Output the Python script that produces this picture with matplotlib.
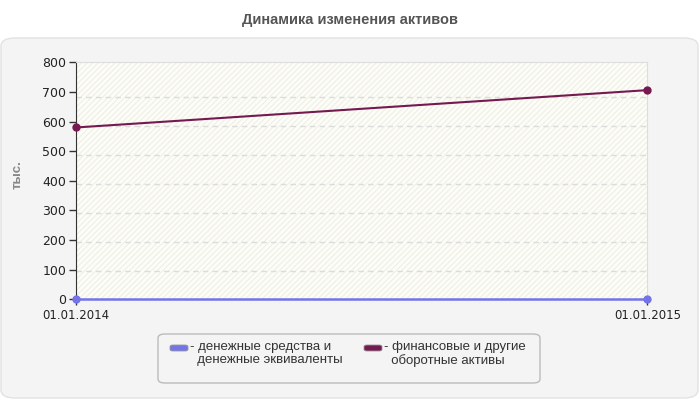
import numpy as np
import matplotlib
matplotlib.use('Agg')
import matplotlib.pyplot as plt
import matplotlib.patches as patches

plt.rcParams['font.family'] = ['Liberation Sans', 'DejaVu Sans']
plt.rcParams['hatch.color'] = '#ebebe4'
plt.rcParams['hatch.linewidth'] = 0.6

dates = ['01.01.2014', '01.01.2015']
cash = [0, 0]
other = [580, 706]
yticks = [0, 100, 200, 300, 400, 500, 600, 700, 800]
grid_vals = [95, 193, 291, 388, 486, 584, 682]
names = ['- денежные средства и\n  денежные эквиваленты',
         '- финансовые и другие\n  оборотные активы']
colors = ['#7474e8', '#751a50']

def main():
    fig = plt.figure(figsize=(7, 4), dpi=100)
    fig.patch.set_facecolor('white')

    # outer panel
    panel = patches.FancyBboxPatch((1/700, 2/400), 697/700, 360/400,
                                   boxstyle='round,pad=0,rounding_size=0.02',
                                   transform=fig.transFigure, facecolor='#f4f4f4',
                                   edgecolor='#e2e2e2', linewidth=1, zorder=-10)
    fig.patches.append(panel)

    fig.text(0.5, 1 - 20/400, 'Динамика изменения активов', ha='center', va='center',
             fontsize=10.5, fontweight='bold', color='#555555')

    ax = fig.add_axes([76/700, 1 - 299.3/400, (647.3 - 76)/700, 237/400])
    ax.set_zorder(1)
    ax.set_facecolor('#fdfdf7')
    x = np.arange(len(dates))
    ax.set_xlim(0, 1)
    ax.set_ylim(0, 800)

    # hatched background
    ax.add_patch(patches.Rectangle((0, 0), 1, 800, facecolor='none', edgecolor='#ebebe4',
                                   hatch='//////', linewidth=0, zorder=0))

    for g in grid_vals:
        ax.axhline(g, color='#dcdcdc', linestyle=(0, (4, 3)), linewidth=1, zorder=1)

    ax.plot(x, other, color=colors[1], linewidth=1.5, marker='o', markersize=5, zorder=3,
            clip_on=False)
    ax.plot(x, cash, color=colors[0], linewidth=1.8, marker='o', markersize=5, zorder=3,
            clip_on=False)

    ax.set_yticks(yticks)
    ax.set_xticks(x)
    ax.set_xticklabels(dates)
    ax.tick_params(axis='both', color='#333333', length=5, width=1,
                   labelcolor='#222222', pad=2)
    ax.tick_params(axis='x', length=4, pad=3)
    for lab in ax.get_yticklabels():
        lab.set_fontfamily('DejaVu Sans')
        lab.set_fontsize(9)
    for lab in ax.get_xticklabels():
        lab.set_fontfamily('DejaVu Sans')
        lab.set_fontsize(8.5)
    for s in ['top', 'right']:
        ax.spines[s].set_color('#dddddd')
    ax.spines['left'].set_color('#333333')
    ax.spines['bottom'].set_visible(False)

    fig.text(18/700, 1 - 175/400, 'тыс.', rotation=90, ha='center', va='center',
             fontsize=9.5, fontweight='bold', color='#888888')

    # legend box
    leg = patches.FancyBboxPatch((158/700, 1 - 383/400), 382/700, 49/400,
                                 boxstyle='round,pad=0,rounding_size=0.01',
                                 transform=fig.transFigure, facecolor='#f4f4f4',
                                 edgecolor='#bbbbbb', linewidth=1)
    fig.patches.append(leg)
    lx = [170, 364]
    for i in range(2):
        h = patches.FancyBboxPatch((lx[i]/700, 1 - 351/400), 18/700, 6/400,
                                   boxstyle='round,pad=0,rounding_size=0.004',
                                   transform=fig.transFigure, facecolor=colors[i],
                                   edgecolor='#999999', linewidth=0.6)
        fig.patches.append(h)
        fig.text((lx[i] + 20)/700, 1 - 341/400, names[i], ha='left', va='top',
                 fontsize=9.5, color='#333333', linespacing=1.15)

    fig.savefig('out.png', dpi=100)

if __name__ == "__main__":
    main()
